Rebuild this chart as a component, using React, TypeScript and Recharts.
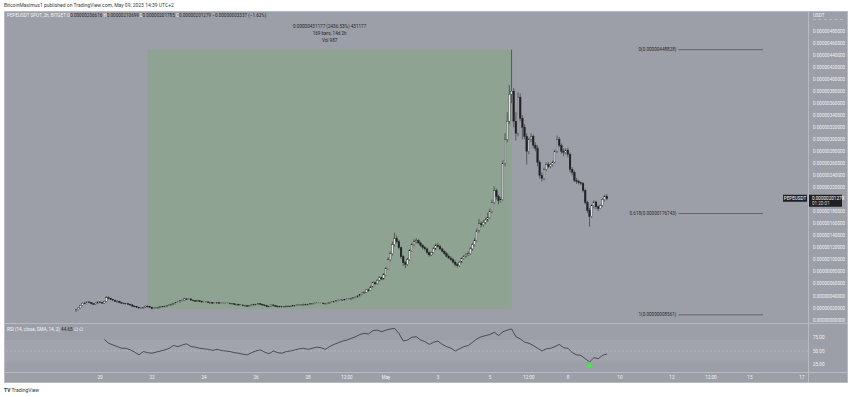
import React from 'react';
import {
  ComposedChart,
  Bar,
  Line,
  XAxis,
  YAxis,
  ReferenceArea,
  ReferenceLine,
  ReferenceDot,
} from 'recharts';

// PEPEUSDT 2h candles. Bar index 0 = Apr 19 00:00, prices in 1e-8 USDT.
const FIRST_BAR = 1;
const FIRST_OPEN = 15;

const closes = [
  17, 20, 24, 28, 27, 30, 29, 27, 26, 28, 30, // Apr 19
  29, 28, 31, 37, 36, 34, 33, 31, 31, 29, 28, 27, // Apr 20
  27, 26, 25, 23, 22, 21, 20, 20, 21, 23, 22, 21, // Apr 21
  19, 20, 20, 21, 22, 22, 23, 24, 25, 26, 27, 29, // Apr 22
  30, 32, 33, 35, 34, 35, 33, 32, 31, 32, 31, 30, // Apr 23
  30, 30, 29, 29, 28, 28, 29, 28, 28, 28, 28, 28, // Apr 24
  27, 27, 26, 26, 25, 25, 24, 24, 23, 24, 25, 26, // Apr 25
  26, 27, 26, 25, 24, 22, 23, 25, 24, 23, 22, 22, // Apr 26
  22, 22, 23, 23, 23, 24, 24, 25, 25, 25, 26, 26, // Apr 27
  26, 27, 27, 28, 28, 28, 28, 27, 27, 28, 29, 30, // Apr 28
  31, 32, 33, 33, 34, 34, 35, 35, 36, 37, 38, 40, // Apr 29
  42, 45, 46, 50, 49, 55, 62, 60, 66, 70, 68, 75, // Apr 30
  85, 100, 110, 125, 135, 130, 120, 105, 95, 92, 100, 115, // May 1
  125, 130, 132, 128, 124, 120, 118, 112, 108, 112, 118, 124, // May 2
  122, 118, 114, 110, 106, 103, 100, 96, 92, 90, 96, 102, // May 3
  106, 108, 110, 118, 125, 132, 148, 160, 158, 162, 166, 170, // May 4
  180, 195, 215, 205, 198, 200, 260, 300, 330, 375, 380, 330, // May 5
  310, 370, 335, 320, 305, 280, 300, 305, 290, 285, 262, 240, // May 6
  235, 250, 258, 255, 258, 262, 280, 300, 290, 280, 278, 282, // May 7
  275, 250, 245, 232, 230, 228, 227, 215, 195, 182, 172, 190, // May 8
  196, 188, 185, 190, 200, 205, 201.279, // May 9
];

const highs = [
  18, 21, 25, 29, 30, 31, 31, 30, 28, 29, 31,
  31, 30, 32, 40, 39, 37, 35, 34, 33, 32, 30, 29,
  28, 28, 27, 26, 24, 23, 22, 21, 22, 24, 24, 23,
  22, 21, 21, 22, 23, 23, 24, 25, 26, 27, 28, 30,
  31, 33, 34, 37, 36, 36, 36, 34, 33, 33, 33, 32,
  31, 31, 31, 30, 30, 29, 30, 30, 29, 29, 29, 29,
  29, 28, 28, 27, 27, 26, 26, 25, 25, 25, 26, 27,
  27, 28, 28, 27, 26, 25, 24, 26, 26, 25, 24, 23,
  23, 23, 24, 24, 24, 25, 25, 26, 26, 26, 27, 27,
  27, 28, 28, 29, 29, 29, 29, 29, 28, 29, 30, 31,
  32, 33, 34, 34, 35, 35, 36, 36, 37, 38, 39, 41,
  43, 46, 48, 51, 52, 57, 64, 64, 68, 73, 72, 78,
  88, 104, 114, 130, 145, 140, 133, 122, 108, 98, 103, 118,
  128, 134, 136, 134, 130, 126, 123, 120, 114, 114, 121, 127,
  128, 125, 120, 116, 113, 109, 106, 103, 99, 95, 98, 104,
  108, 111, 114, 121, 128, 136, 152, 168, 164, 166, 170, 178,
  185, 200, 222, 218, 208, 204, 265, 310, 345, 390, 448.828, 385,
  345, 378, 376, 340, 325, 310, 303, 310, 308, 295, 290, 265,
  245, 253, 262, 262, 260, 265, 283, 306, 304, 293, 285, 285,
  286, 278, 254, 248, 236, 233, 230, 229, 218, 198, 186, 192,
  199, 198, 190, 192, 202, 208, 209,
];

const lows = [
  14, 16, 19, 23, 26, 26, 28, 26, 25, 25, 27,
  28, 27, 27, 30, 34, 33, 32, 30, 29, 28, 27, 26,
  26, 25, 24, 22, 21, 20, 19, 19, 19, 20, 21, 20,
  17.696, 18, 19, 19, 20, 21, 21, 22, 23, 24, 25, 26,
  28, 29, 31, 32, 33, 33, 32, 31, 30, 30, 30, 29,
  29, 29, 28, 28, 27, 27, 27, 27, 27, 27, 27, 27,
  26, 26, 25, 25, 24, 24, 23, 23, 22, 22, 23, 24,
  25, 25, 25, 24, 23, 21, 21, 22, 23, 22, 21, 21,
  21, 21, 21, 22, 22, 22, 23, 23, 24, 24, 24, 25,
  25, 25, 26, 26, 27, 27, 27, 26, 26, 26, 27, 28,
  29, 30, 31, 32, 32, 33, 33, 34, 34, 35, 36, 37,
  39, 41, 44, 45, 47, 48, 54, 58, 59, 64, 66, 67,
  73, 83, 97, 107, 122, 127, 117, 102, 90, 86, 90, 98,
  113, 122, 127, 126, 121, 117, 115, 109, 105, 106, 110, 116,
  120, 116, 112, 108, 104, 101, 98, 94, 89, 87, 88, 94,
  100, 103, 106, 108, 115, 122, 130, 145, 154, 155, 159, 163,
  168, 177, 192, 200, 192, 195, 198, 255, 295, 325, 360, 320,
  298, 305, 330, 300, 300, 258, 275, 295, 285, 280, 255, 235,
  230, 232, 247, 252, 252, 255, 260, 277, 287, 276, 272, 275,
  270, 245, 240, 229, 226, 225, 224, 212, 192, 178, 155, 170,
  185, 184, 181, 184, 188, 197, 199,
];

// RSI(14), one reading every second bar starting at bar 14
const RSI_START = 14;
const RSI_STEP = 2;
const rsiValues = [
  71, 64, 61, 58, 55, 55, 52, 48, 43, 49, 47, 46,
  48, 50, 52, 55, 60, 58, 61, 63, 58, 57, 55, 54,
  53, 51, 53, 51, 50, 49, 47, 46, 44, 43, 47, 50,
  52, 48, 45, 50, 47, 46, 49, 50, 52, 54, 55, 53,
  55, 57, 56, 53, 58, 62, 65, 68, 70, 73, 76, 80,
  82, 81, 87, 88, 85, 88, 90, 91, 82, 68, 70, 75,
  76, 70, 67, 62, 66, 68, 62, 58, 55, 50, 54, 58,
  60, 66, 72, 76, 78, 80, 84, 78, 85, 88, 90, 76,
  72, 66, 64, 60, 55, 50, 54, 55, 58, 62, 56, 55,
  47, 43, 42, 36, 30, 38, 36, 42, 44.65,
];

const dayTicks = [12, 36, 60, 84, 108, 126, 144, 168, 192, 210, 228, 252, 276, 294, 312, 336];
const dayLabels = ['20', '22', '24', '26', '28', '12:00', 'May', '3', '5', '12:00', '8', '10', '12', '12:00', '15', '17'];
const rsiTicks = [25, 50, 75];

// date range tool + fib levels
const RANGE_START = 34;
const RANGE_END = 202;
const RANGE_LOW = 17.696;
const RANGE_HIGH = 448.828;
const FIB_FROM = 279;
const FIB_TO = 318;
const fibLevels = [
  { v: 448.828, label: '0(0.00000448828)' },
  { v: 176.743, label: '0.618(0.00000176743)' },
  { v: 8.561, label: '1(0.00000008561)' },
];
const SIGNAL_BAR = 238;

const X_MIN = -32.3;
const X_MAX = 338.8;

const BG = '#9c9fa7';
const GREEN = '#8ea391';
const LINE = '#b7bac1';
const AXIS_TXT = '#f1f2f4';
const DARK = '#1f2024';
const FONT = 'Roboto, "Liberation Sans", sans-serif';

const candles = closes.map((c, k) => ({
  i: FIRST_BAR + k,
  o: k === 0 ? FIRST_OPEN : closes[k - 1],
  h: highs[k],
  l: lows[k],
  c,
}));

const rsiData = rsiValues.map((r, k) => ({ x: RSI_START + k * RSI_STEP, r }));
const lastClose = closes[closes.length - 1];

// grid labels every 0.0000002; the one under the last-price badge is covered in the original
const priceTicks = Array.from({ length: 25 }, (_, k) => k * 20).filter((v) => Math.abs(v - lastClose) > 8);

const fmtPrice = (v: number) => (v * 1e-8).toFixed(11);

function Candle(props: any) {
  const { x, y, width, height, payload } = props;
  if (!payload) return null;
  const { o, h, l, c } = payload;
  const top = Math.min(y, y + height);
  const span = Math.abs(height);
  const ppu = h > l ? span / (h - l) : 0;
  const cx = x + width / 2;
  const bodyTop = top + (h - Math.max(o, c)) * ppu;
  const bodyH = Math.max(Math.abs(o - c) * ppu, 0.7);
  const up = c >= o;
  return (
    <g>
      <line x1={cx} x2={cx} y1={top} y2={top + span} stroke="#2a2b2f" strokeWidth={0.6} />
      <rect
        x={cx - 0.85}
        y={bodyTop}
        width={1.7}
        height={bodyH}
        fill={up ? '#e6e6e6' : DARK}
        stroke={DARK}
        strokeWidth={0.35}
      />
    </g>
  );
}

function MeasureLabel(props: any) {
  const vb = props.viewBox;
  if (!vb) return null;
  const cx = vb.x + vb.width / 2;
  return (
    <g fontSize={4.6} fill="#26272b" textAnchor="middle" fontFamily={FONT}>
      <text x={cx} y={vb.y - 21.4}>0.00000431177 (2436.53%) 431177</text>
      <text x={cx} y={vb.y - 14.4}>169 bars, 14d 2h</text>
      <text x={cx} y={vb.y - 7.4}>Vol 987</text>
    </g>
  );
}

function LastPriceLabel(props: any) {
  const vb = props.viewBox;
  if (!vb) return null;
  const ax = vb.x + vb.width;
  const py = vb.y;
  return (
    <g fontFamily={FONT} fontSize={4.6}>
      <rect x={ax - 25} y={py - 4} width={24} height={7} fill={DARK} />
      <text x={ax - 13} y={py + 1.5} fill="#fff" textAnchor="middle">PEPEUSDT</text>
      <rect x={ax} y={py - 4} width={34} height={12} fill={DARK} />
      <text x={ax + 4} y={py + 1.6} fill="#fff">{fmtPrice(lastClose)}</text>
      <text x={ax + 4} y={py + 6.6} fill="#d0d0d0">01:20:01</text>
    </g>
  );
}

function SignalArrow(props: any) {
  const { cx, cy } = props;
  if (cx == null) return null;
  return <path d={`M${cx} ${cy - 3} L${cx + 3.5} ${cy + 2.5} L${cx - 3.5} ${cy + 2.5} Z`} fill="#3cf03c" />;
}

export default function App() {
  return (
    <div
      style={{
        position: 'absolute',
        left: 0,
        top: 0,
        width: 850,
        height: 396,
        background: '#ffffff',
        fontFamily: FONT,
        overflow: 'hidden',
      }}
    >
      <div style={{ position: 'absolute', left: 4, top: 2, fontSize: 5, color: '#3a3a3a', whiteSpace: 'nowrap' }}>
        BitcoinMaximus1 published on TradingView.com, May 09, 2023 14:39 UTC+2
      </div>

      <div style={{ position: 'absolute', left: 4, top: 11, width: 844, height: 372, background: BG }}>
        <ComposedChart width={844} height={312} data={candles} margin={{ top: 0, right: 0, bottom: 0, left: 0 }}>
          <XAxis type="number" dataKey="i" domain={[X_MIN, X_MAX]} hide allowDataOverflow />
          <YAxis
            orientation="right"
            width={40}
            domain={[-5, 513]}
            ticks={priceTicks}
            interval={0}
            allowDataOverflow
            tickFormatter={fmtPrice}
            tick={{ fontSize: 4.6, fill: AXIS_TXT, fontFamily: FONT }}
            tickLine={false}
            tickSize={0}
            tickMargin={5}
            axisLine={false}
          />
          <ReferenceArea
            x1={RANGE_START}
            x2={RANGE_END}
            y1={RANGE_LOW}
            y2={RANGE_HIGH}
            fill={GREEN}
            fillOpacity={1}
            stroke="none"
            label={(p: any) => <MeasureLabel {...p} />}
          />
          {fibLevels.map((f) => (
            <ReferenceLine
              key={f.label}
              segment={[{ x: FIB_FROM, y: f.v }, { x: FIB_TO, y: f.v }]}
              stroke="#55575d"
              strokeWidth={0.8}
              label={{ value: f.label, position: 'left', offset: 2, fontSize: 4.6, fill: '#2a2b2f', fontFamily: FONT }}
            />
          ))}
          <Bar dataKey={(d: any) => [d.l, d.h]} shape={(p: any) => <Candle {...p} />} barSize={2} isAnimationActive={false} />
          <ReferenceLine y={lastClose} stroke="none" label={(p: any) => <LastPriceLabel {...p} />} />
        </ComposedChart>

        <ComposedChart
          width={844}
          height={60}
          data={rsiData}
          margin={{ top: 0, right: 0, bottom: 0, left: 0 }}
          style={{ position: 'absolute', left: 0, top: 312 }}
        >
          <XAxis
            type="number"
            dataKey="x"
            domain={[X_MIN, X_MAX]}
            allowDataOverflow
            ticks={dayTicks}
            interval={0}
            tickFormatter={(v: number) => dayLabels[dayTicks.indexOf(v)]}
            tick={{ fontSize: 4.6, fill: AXIS_TXT, fontFamily: FONT }}
            tickLine={false}
            tickSize={0}
            tickMargin={4}
            axisLine={false}
            height={11}
          />
          <YAxis
            orientation="right"
            width={40}
            domain={[11.8, 100.9]}
            allowDataOverflow
            ticks={rsiTicks}
            interval={0}
            tickFormatter={(v: number) => v.toFixed(2)}
            tick={{ fontSize: 4.6, fill: AXIS_TXT, fontFamily: FONT }}
            tickLine={false}
            tickSize={0}
            tickMargin={5}
            axisLine={false}
          />
          <ReferenceArea y1={30} y2={70} fill="#ffffff" fillOpacity={0.06} stroke="none" />
          <ReferenceLine y={50} stroke="#c4c7cd" strokeDasharray="2 2" strokeWidth={0.5} />
          <Line dataKey="r" type="linear" stroke="#26272b" strokeWidth={0.7} dot={false} isAnimationActive={false} />
          <ReferenceDot x={SIGNAL_BAR} y={24.5} r={3} shape={(p: any) => <SignalArrow {...p} />} />
        </ComposedChart>

        {/* pane separators and price-scale border */}
        <div style={{ position: 'absolute', left: 0, top: 312, width: 844, height: 1, background: LINE }} />
        <div style={{ position: 'absolute', left: 0, top: 361, width: 844, height: 1, background: LINE }} />
        <div style={{ position: 'absolute', left: 804, top: 0, width: 1, height: 372, background: LINE }} />
        <div style={{ position: 'absolute', inset: 0, border: `1px solid ${LINE}`, pointerEvents: 'none' }} />

        <div style={{ position: 'absolute', left: 809, top: 2, fontSize: 4.6, color: AXIS_TXT }}>USDT</div>
        <div style={{ position: 'absolute', left: 809, top: 8, width: 30, borderTop: `1px dashed ${LINE}` }} />

        <div style={{ position: 'absolute', left: 3, top: 2, fontSize: 4.6, whiteSpace: 'nowrap', color: '#26272b' }}>
          <span style={{ color: '#f4f4f6' }}>PEPEUSDT SPOT, 2h, BITGET </span>
          <span style={{ color: '#f4f4f6' }}> O</span>0.00000206616
          <span style={{ color: '#f4f4f6' }}> H</span>0.00000210699
          <span style={{ color: '#f4f4f6' }}> L</span>0.00000201785
          <span style={{ color: '#f4f4f6' }}> C</span>0.00000201279 −0.00000003337 (−1.62%)
        </div>

        <div style={{ position: 'absolute', left: 3, top: 316, fontSize: 4.6, whiteSpace: 'nowrap', color: '#f4f4f6' }}>
          RSI (14, close, SMA, 14, 2) <span style={{ color: '#26272b' }}>44.65</span> ∅ ∅
        </div>
      </div>

      <div style={{ position: 'absolute', left: 4, top: 387, fontSize: 5, color: '#333', whiteSpace: 'nowrap' }}>
        <b>TV</b> TradingView
      </div>
    </div>
  );
}
